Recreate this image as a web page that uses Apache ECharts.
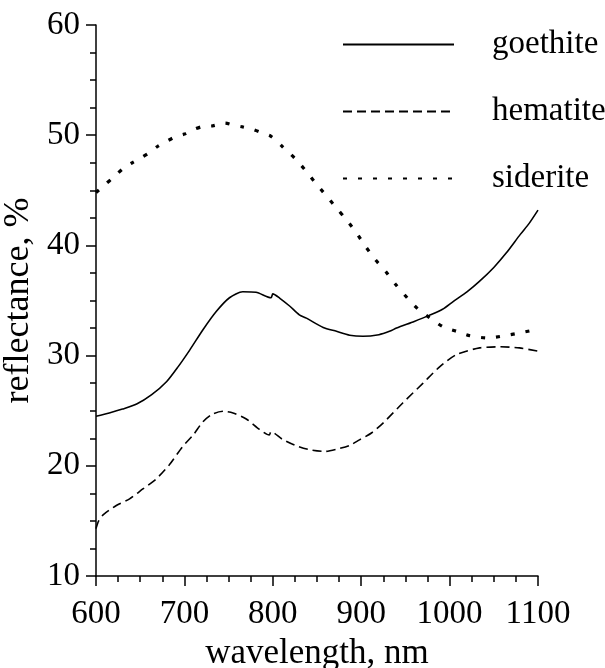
<!DOCTYPE html>
<html>
<head>
<meta charset="utf-8">
<script src="https://cdn.jsdelivr.net/npm/echarts@6/dist/echarts.min.js"></script>
<style>html,body{margin:0;padding:0;background:#fff}#c{width:605px;height:668px}</style>
</head>
<body>
<div id="c"></div>
<script>
var goethiteX = [600,615,630,646,663,680,693,706,721,736,751,766,781,798,800,808,819,830,838,857,872,887,902,920,932,940,960,977,992,1004,1020,1034,1050,1064,1080,1090,1100];
var goethiteY = [24.5,24.8,25.15,25.6,26.45,27.65,29.0,30.5,32.35,34.0,35.25,35.8,35.75,35.25,35.6,35.2,34.5,33.7,33.4,32.55,32.2,31.85,31.75,31.9,32.2,32.5,33.1,33.65,34.2,34.9,35.8,36.75,38.0,39.3,41.0,42.0,43.2];
var hematiteX = [600,603,608,623,638,653,668,683,698,710,721,732,744,755,770,785,796,798,811,827,842,859,872,887,898,912,925,947,970,989,1008,1034,1057,1079,1100];
var hematiteY = [14.3,15.0,15.55,16.4,17.0,17.9,18.8,20.1,21.75,22.8,24.0,24.7,24.95,24.8,24.25,23.3,22.8,23.1,22.4,21.8,21.45,21.3,21.5,21.85,22.35,23.0,23.9,25.7,27.5,29.0,30.1,30.7,30.8,30.7,30.4];
var sideriteX = [600,610,620,631,641,650,660,670,681,691,700,710,721,732,746,756,766,778,788,798,811,825,837,848,860,872,883,894,905,916,928,939,952,964,978,993,1008,1023,1043,1062,1079,1100];
var sideriteY = [44.8,45.5,46.2,47.0,47.5,47.9,48.4,49.0,49.5,49.9,50.1,50.5,50.8,50.85,51.1,50.9,50.75,50.5,50.2,49.9,48.95,47.9,46.8,45.7,44.55,43.4,42.35,41.2,39.9,38.7,37.6,36.45,35.25,34.25,33.4,32.6,32.2,31.8,31.6,31.8,32.05,32.4];
var seriesNames = ['goethite','hematite','siderite'];
var xAxisTitle = 'wavelength, nm';
var yAxisTitle = 'reflectance, %';

function pairs(xs, ys){ return xs.map(function(x,i){ return [x, ys[i]]; }); }

var FONT = "'Liberation Serif','Times New Roman',serif";
var chart = echarts.init(document.getElementById('c'), null, {renderer:'canvas'});
var axisCommon = {
  axisLine:{show:true, onZero:false, lineStyle:{color:'#000', width:1.5}},
  axisTick:{show:true, inside:false, length:10, lineStyle:{color:'#000', width:1.5}},
  minorTick:{show:true, splitNumber:4, length:6, lineStyle:{color:'#000', width:1.5}},
  splitLine:{show:false},
  nameLocation:'middle'
};
chart.setOption({
  animation:false,
  backgroundColor:'#fff',
  grid:{left:96, right:67, top:25, bottom:92, containLabel:false, outerBoundsMode:'none'},
  legend:{
    orient:'vertical', left:342, top:28, padding:0,
    itemWidth:111, itemHeight:20, itemGap:34,
    data:seriesNames,
    itemStyle:{opacity:0, color:'transparent', borderWidth:0},
    textStyle:{fontFamily:FONT, fontSize:33, color:'#000', padding:[0,0,0,33]}
  },
  xAxis:Object.assign({}, axisCommon, {
    type:'value', min:600, max:1100, interval:100,
    name:xAxisTitle, nameGap:59,
    nameTextStyle:{fontFamily:FONT, fontSize:35, color:'#000'},
    axisLabel:{fontFamily:FONT, fontSize:33, color:'#000', margin:22, formatter:function(v){return String(v);}}
  }),
  yAxis:Object.assign({}, axisCommon, {
    type:'value', min:10, max:60, interval:10,
    name:yAxisTitle, nameGap:52, nameRotate:90,
    nameTextStyle:{fontFamily:FONT, fontSize:36, color:'#000'},
    axisLabel:{fontFamily:FONT, fontSize:33, color:'#000', margin:16, formatter:function(v){return String(v);}}
  }),
  series:[
    {name:seriesNames[0], type:'line', symbol:'none', smooth:0.25, data:pairs(goethiteX, goethiteY),
     lineStyle:{color:'#000', width:1.6, type:'solid'}, itemStyle:{color:'#000'}},
    {name:seriesNames[1], type:'line', symbol:'none', smooth:0.25, data:pairs(hematiteX, hematiteY),
     lineStyle:{color:'#000', width:1.6, type:[9,5]}, itemStyle:{color:'#000'}},
    {name:seriesNames[2], type:'line', symbol:'none', smooth:0.25, data:pairs(sideriteX, sideriteY),
     lineStyle:{color:'#000', width:3.2, type:[4,11]}, itemStyle:{color:'#000'}}
  ]
});
</script>
</body>
</html>
